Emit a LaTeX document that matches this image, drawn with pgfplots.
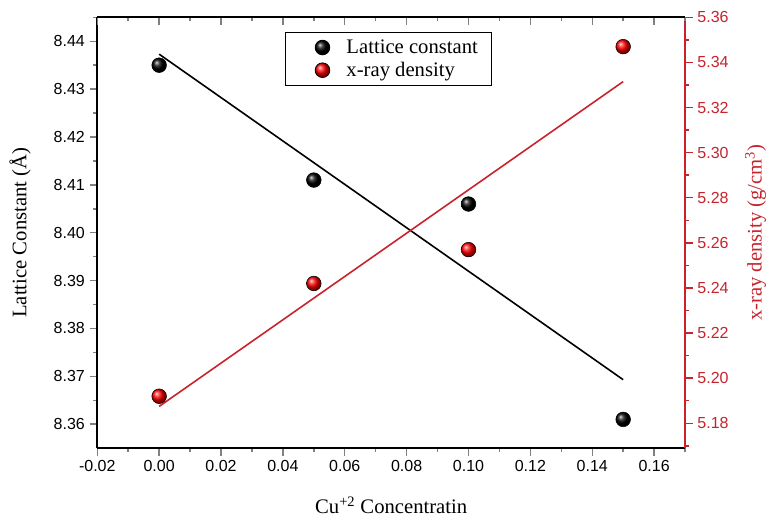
\documentclass[border=0pt]{standalone}
\usepackage{fontspec}
\setmainfont{Liberation Serif}
\newfontfamily\arial{Liberation Sans}
\usepackage{pgfplots}
\pgfplotsset{compat=1.18}
\definecolor{axred}{RGB}{200,35,45}

\pgfplotsset{
  base/.style={
    width=441pt, height=323.25pt, scale only axis,
    at={(0,0)}, anchor=south west,
    xmin=-0.02, xmax=0.17,
    xtick={-0.02,0,0.02,0.04,0.06,0.08,0.1,0.12,0.14,0.16},
    minor xtick={-0.01,0.01,0.03,0.05,0.07,0.09,0.11,0.13,0.15,0.17},
    axis line style={line width=1.3pt},
    tick style={line width=1.1pt},
    major tick length=5.8pt, minor tick length=3pt,
    tick align=outside,
    /pgf/number format/assume math mode=true,
    /pgf/number format/fixed, /pgf/number format/fixed zerofill,
    /pgf/number format/precision=2,
    ticklabel style={font=\arial\fontsize{12}{14}\selectfont},
    label style={font=\fontsize{15.5}{18}\selectfont},
  },
  ballimg/.style={legend image code/.code={
    \pgfpathrectangle{\pgfpoint{0pt}{-6pt}}{\pgfpoint{36pt}{12pt}}%
    \pgfusepath{use as bounding box}%
    \shade[ball color=#1] (20pt,0pt) circle (5.5pt);}},
}

\begin{document}
\begin{tikzpicture}
\path[use as bounding box] (-73pt,-53.25pt) rectangle (501.75pt,336.25pt);

% left axis: lattice constant
\begin{axis}[base,
  axis x line*=bottom, axis y line*=left,
  ymin=8.355, ymax=8.445,
  ytick={8.36,8.37,8.38,8.39,8.40,8.41,8.42,8.43,8.44},
  minor ytick={8.365,8.375,8.385,8.395,8.405,8.415,8.425,8.435,8.445},
  xlabel={Cu\textsuperscript{+2} Concentratin},
  ylabel={Lattice Constant (Å)},
  xlabel style={at={(axis description cs:0.5,-0.132)}, anchor=center},
  ylabel style={at={(axis description cs:-0.1315,0.5)}, anchor=center},
]
\addplot[black, line width=1.2pt] coordinates {(0,8.4373) (0.15,8.3693)};
\addplot[only marks, mark=ball, mark size=5.5pt, ball color=black]
  coordinates {(0,8.435) (0.05,8.411) (0.1,8.406) (0.15,8.361)};
\end{axis}

% right axis: x-ray density
\begin{axis}[base,
  axis x line=none, axis y line*=right,
  ymin=5.169, ymax=5.36,
  ytick={5.18,5.20,5.22,5.24,5.26,5.28,5.30,5.32,5.34,5.36},
  minor ytick={5.17,5.19,5.21,5.23,5.25,5.27,5.29,5.31,5.33,5.35},
  y axis line style={axred},
  ytick style={axred},
  yticklabel style={text=axred},
  ylabel={x-ray density (g/cm\textsuperscript{3})},
  ylabel style={at={(axis description cs:1.12,0.5)}, anchor=center, text=axred},
  legend style={at={(axis description cs:0.319,0.966)}, anchor=north west,
    draw=black, line width=0.6pt, inner xsep=8pt, inner ysep=3.5pt,
    font=\fontsize{15.5}{18}\selectfont, row sep=1pt},
  legend cell align=left,
]
\addlegendimage{ballimg=black}
\addlegendentry{Lattice constant}
\addplot[axred, line width=1.2pt, forget plot] coordinates {(0,5.1875) (0.15,5.3315)};
\addplot[only marks, mark=ball, mark size=5.5pt, ball color=red, ballimg=red]
  coordinates {(0,5.192) (0.05,5.242) (0.1,5.257) (0.15,5.347)};
\addlegendentry{x-ray density}
\end{axis}

% top frame with inward ticks
\begin{axis}[base,
  axis x line*=top, axis y line=none,
  tick align=inside, xticklabels={},
  ymin=0, ymax=1,
]
\end{axis}
\end{tikzpicture}
\end{document}
